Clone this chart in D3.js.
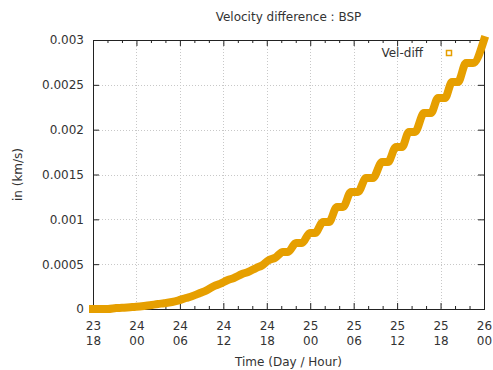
<!DOCTYPE html>
<html>
<head>
<meta charset="utf-8">
<script src="https://cdn.jsdelivr.net/npm/d3@7"></script>
<style>
  body { margin: 0; background: #fff; }
  text { font-family: "DejaVu Sans", sans-serif; font-size: 12px; fill: #333; }
</style>
</head>
<body>
<div id="chart"></div>
<script>
// hours after day 23 18:00
const hours = [0, 1.24, 2.07, 3.18, 4.01, 5.11, 5.94, 7.04, 7.87, 8.98, 9.81,
  10.91, 11.74, 12.84, 13.67, 14.78, 15.61, 16.71, 17.54, 18.64, 19.47,
  20.58, 21.41, 22.51, 23.34, 24.31, 25.14, 26.24, 26.93, 28.04, 28.86,
  29.97, 30.66, 31.76, 32.59, 33.70, 34.53, 35.63, 36.60, 37.70, 38.67,
  39.91, 40.74, 41.85, 42.68, 43.64, 44.47, 45.71, 46.68, 47.65, 48.61,
  49.58, 50.41, 51.51, 52.48, 54.0]
// velocity difference (km/s)
const velDiff = [0, 0, 0, 0.00001, 0.000013, 0.00002, 0.000025, 0.000034, 0.000042, 0.000056, 0.000064,
  0.000078, 0.000094, 0.000123, 0.000142, 0.000178, 0.000205, 0.000256, 0.00028, 0.000323, 0.000346,
  0.00039, 0.000413, 0.000457, 0.000485, 0.000546, 0.00057, 0.000636, 0.000636, 0.000736, 0.000736,
  0.000848, 0.000848, 0.00097, 0.00097, 0.001138, 0.001138, 0.001305, 0.001305, 0.001461, 0.001461,
  0.001639, 0.001639, 0.001807, 0.001807, 0.001974, 0.001974, 0.002186, 0.002186, 0.002353, 0.002353,
  0.002532, 0.002532, 0.002743, 0.002743, 0.003]

const xTickHours = [0, 6, 12, 18, 24, 30, 36, 42, 48, 54]
const xTickDays = ["23", "24", "24", "24", "24", "25", "25", "25", "25", "26"]
const xTickHourLabels = ["18", "00", "06", "12", "18", "00", "06", "12", "18", "00"]
const yTicks = [0, 0.0005, 0.001, 0.0015, 0.002, 0.0025, 0.003]
const yTickLabels = ["0", "0.0005", "0.001", "0.0015", "0.002", "0.0025", "0.003"]

const margin = { top: 40, right: 9, bottom: 61, left: 93 }
const width = 493 - margin.left - margin.right,
    height = 370 - margin.top - margin.bottom;

const color = "#e69f00"
const start = new Date(2000, 0, 23, 18)
const toDate = h => d3.timeMinute.offset(start, Math.round(h * 60))

const svgRoot = d3.select("#chart")
    .append("svg")
    .attr("width", 493)
    .attr("height", 370)

const svg = svgRoot.append("g")
    .attr("transform", "translate(" + margin.left + "," + margin.top + ")")

const xPositionScale = d3.scaleTime()
    .domain([start, toDate(54)])
    .range([0, width])
const yPositionScale = d3.scaleLinear()
    .domain([0, 0.003])
    .range([height, 0])

const xMajor = xTickHours.map(toDate)
const xMinor = d3.range(0, 55, 2).filter(h => h % 6 !== 0).map(toDate)

// dotted grid
svg.append("g").selectAll("line")
    .data(xMajor.slice(1, -1))
    .enter().append("line")
    .attr("x1", d => Math.round(xPositionScale(d)) + 0.5)
    .attr("x2", d => Math.round(xPositionScale(d)) + 0.5)
    .attr("y1", 0).attr("y2", height)
    .attr("stroke", "#c8c8c8")
    .attr("stroke-dasharray", "1,2")
svg.append("g").selectAll("line")
    .data(yTicks.slice(1, -1))
    .enter().append("line")
    .attr("y1", d => Math.round(yPositionScale(d)) + 0.5)
    .attr("y2", d => Math.round(yPositionScale(d)) + 0.5)
    .attr("x1", 0).attr("x2", width)
    .attr("stroke", "#c8c8c8")
    .attr("stroke-dasharray", "1,2")

// axes with inward ticks
const xAxis = d3.axisBottom(xPositionScale).tickValues(xMajor).tickSizeInner(-6).tickSizeOuter(0).tickFormat("")
const xAxisTop = d3.axisTop(xPositionScale).tickValues(xMajor).tickSizeInner(-6).tickSizeOuter(0).tickFormat("")
const xMinorAxis = d3.axisBottom(xPositionScale).tickValues(xMinor).tickSizeInner(-3).tickSizeOuter(0).tickFormat("")
const xMinorTop = d3.axisTop(xPositionScale).tickValues(xMinor).tickSizeInner(-3).tickSizeOuter(0).tickFormat("")
const yAxis = d3.axisLeft(yPositionScale).tickValues(yTicks).tickSizeInner(-6).tickSizeOuter(0)
    .tickPadding(9).tickFormat((d, i) => yTickLabels[i])
const yAxisRight = d3.axisRight(yPositionScale).tickValues(yTicks).tickSizeInner(-6).tickSizeOuter(0).tickFormat("")

svg.append("g").attr("class", "axis x-axis").attr("transform", "translate(0," + height + ")").call(xAxis)
svg.append("g").attr("class", "axis x-axis").attr("transform", "translate(0," + height + ")").call(xMinorAxis)
svg.append("g").attr("class", "axis").call(xAxisTop)
svg.append("g").attr("class", "axis").call(xMinorTop)
svg.append("g").attr("class", "axis y-axis").call(yAxis)
svg.append("g").attr("class", "axis").attr("transform", "translate(" + width + ",0)").call(yAxisRight)

svg.selectAll(".axis .domain").remove()
svg.selectAll(".axis line").attr("stroke", "#222")
svg.selectAll(".y-axis text")
    .style("font-family", "DejaVu Sans, sans-serif").style("font-size", "12px").attr("fill", "#333")

// two line x labels: day / hour
const xLabels = svg.append("g")
    .attr("transform", "translate(0," + height + ")")
    .selectAll("text")
    .data(xMajor)
    .enter().append("text")
    .attr("text-anchor", "middle")
xLabels.append("tspan")
    .attr("x", d => xPositionScale(d) + 0.5)
    .attr("y", 21)
    .text((d, i) => xTickDays[i])
xLabels.append("tspan")
    .attr("x", d => xPositionScale(d) + 0.5)
    .attr("y", 36)
    .text((d, i) => xTickHourLabels[i])

// border
svg.append("rect")
    .attr("x", 0.5).attr("y", 0.5)
    .attr("width", width).attr("height", height)
    .attr("fill", "none")
    .attr("stroke", "#222")

// the curve
const line = d3.line()
    .x((d, i) => xPositionScale(toDate(hours[i])))
    .y(d => yPositionScale(d))
    .curve(d3.curveMonotoneX)

svg.append("path")
    .datum(velDiff)
    .attr("d", line)
    .attr("fill", "none")
    .attr("stroke", color)
    .attr("stroke-width", 8)
    .attr("stroke-linejoin", "round")
    .attr("stroke-linecap", "square")

// legend
svgRoot.append("text")
    .attr("x", 423).attr("y", 57)
    .attr("text-anchor", "end")
    .text("Vel-diff")
svgRoot.append("rect")
    .attr("x", 446.5).attr("y", 50.5)
    .attr("width", 5).attr("height", 5)
    .attr("fill", "none")
    .attr("stroke", color)
    .attr("stroke-width", 1.5)

// titles
svgRoot.append("text")
    .attr("x", 288.5).attr("y", 21)
    .attr("text-anchor", "middle")
    .text("Velocity difference : BSP")
svgRoot.append("text")
    .attr("transform", "translate(22,174.5) rotate(-90)")
    .attr("text-anchor", "middle")
    .text("in (km/s)")
svgRoot.append("text")
    .attr("x", 288.5).attr("y", 366)
    .attr("text-anchor", "middle")
    .text("Time (Day / Hour)")
</script>
</body>
</html>
